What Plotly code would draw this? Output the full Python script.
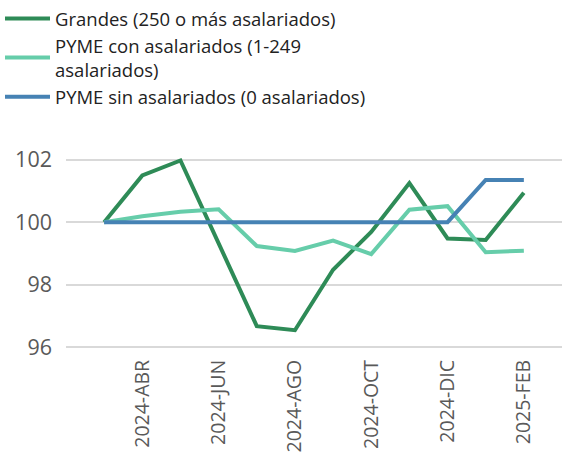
import plotly.graph_objects as go

months = ["2024-MAR", "2024-ABR", "2024-MAY", "2024-JUN", "2024-JUL", "2024-AGO",
          "2024-SEP", "2024-OCT", "2024-NOV", "2024-DIC", "2025-ENE", "2025-FEB"]
tick_labels = ["2024-ABR", "2024-JUN", "2024-AGO", "2024-OCT", "2024-DIC", "2025-FEB"]

grandes = [100.0, 101.49, 101.97, 99.35, 96.68, 96.55, 98.48, 99.69, 101.25, 99.48, 99.43, 100.94]
pyme_con = [100.0, 100.19, 100.33, 100.41, 99.24, 99.08, 99.41, 98.98, 100.40, 100.51, 99.04, 99.09]
pyme_sin = [100.0, 100.0, 100.0, 100.0, 100.0, 100.0, 100.0, 100.0, 100.0, 100.0, 101.35, 101.35]

series = [
    ("Grandes (250 o más asalariados)", grandes, "#2E8B57"),
    ("PYME con asalariados (1-249<br>asalariados)", pyme_con, "#66CDAA"),
    ("PYME sin asalariados (0 asalariados)", pyme_sin, "#4682B4"),
]

fig = go.Figure()
for name, vals, color in series:
    fig.add_trace(go.Scatter(x=months, y=vals, name=name, mode="lines",
                             line=dict(color=color, width=4)))

W, H = 573, 463
ML, MR, MT, MB = 66, 0, 146, 103
PLOT_RIGHT = 562
pw, ph = W - ML - MR, H - MT - MB

font_family = "Open Sans, Noto Sans, sans-serif"
fig.update_layout(
    width=W, height=H,
    margin=dict(l=ML, r=MR, t=MT, b=MB, pad=0),
    paper_bgcolor="white", plot_bgcolor="white",
    font=dict(family=font_family, color="#595959"),
    showlegend=True,
    legend=dict(x=-ML / pw, y=1 + (MT + 2) / ph,
                xanchor="left", yanchor="top",
                font=dict(size=18.5, color="#222222", family=font_family),
                itemwidth=45, tracegroupgap=0, bgcolor="rgba(0,0,0,0)"),
    xaxis=dict(type="category", categoryorder="array", categoryarray=months,
               domain=[0, (PLOT_RIGHT - ML) / pw],
               range=[-1, 12], tickmode="array", tickvals=tick_labels, ticktext=tick_labels,
               tickangle=-90, tickfont=dict(size=19.5, color="#595959"),
               showgrid=False, zeroline=False, showline=False, ticks="", automargin=False,
               ticklabelstandoff=-5),
    yaxis=dict(range=[95.6, 102.4], tickvals=[96, 98, 100, 102],
               tickfont=dict(size=21.5, color="#595959"),
               showgrid=True, gridcolor="#D9D9D9", gridwidth=1.5,
               zeroline=False, showline=False, ticks="", ticklabelstandoff=13, automargin=False),
)

fig.write_html("out.html")
